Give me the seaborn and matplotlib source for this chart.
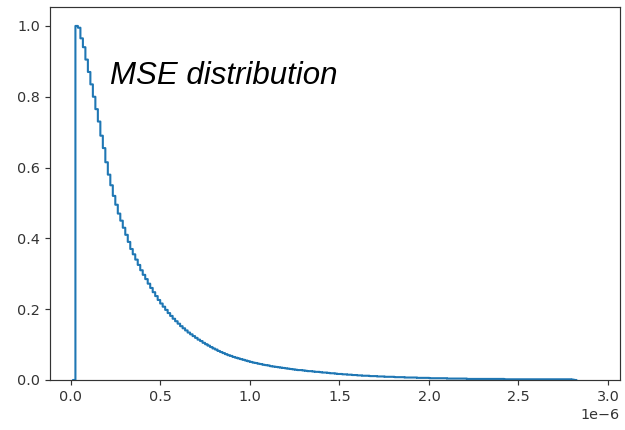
import numpy as np
import pandas as pd
import matplotlib
matplotlib.use("Agg")
import matplotlib.pyplot as plt
import seaborn as sns

# Histogram of per-sample MSE, normalised so the tallest bin is 1.
# The first and last entries are the empty bins just outside the data range,
# so the step outline closes down to zero at both ends.
bin_start = 0.025e-6 - 0.013925e-6
bin_width = 0.013925e-6
bin_heights = [
    0.000,
    1.000, 0.995, 0.965, 0.940, 0.905, 0.870, 0.835, 0.800, 0.765, 0.730,
    0.690, 0.655, 0.615, 0.580, 0.550, 0.520, 0.495, 0.470, 0.450, 0.430,
    0.410, 0.390, 0.370, 0.355, 0.340, 0.325, 0.310, 0.297, 0.285, 0.272,
    0.260, 0.248, 0.237, 0.226, 0.216, 0.207, 0.198, 0.189, 0.181, 0.173,
    0.166, 0.159, 0.152, 0.146, 0.140, 0.134, 0.129, 0.124, 0.119, 0.114,
    0.110, 0.105, 0.101, 0.097, 0.093, 0.089, 0.086, 0.082, 0.079, 0.076,
    0.073, 0.070, 0.068, 0.065, 0.063, 0.061, 0.059, 0.057, 0.055, 0.053,
    0.051, 0.049, 0.048, 0.046, 0.045, 0.043, 0.042, 0.041, 0.039, 0.038,
    0.037, 0.036, 0.035, 0.034, 0.033, 0.032, 0.031, 0.030, 0.029, 0.028,
    0.028, 0.027, 0.026, 0.025, 0.025, 0.024, 0.023, 0.023, 0.022, 0.021,
    0.021, 0.020, 0.019, 0.019, 0.018, 0.017, 0.017, 0.016, 0.016, 0.015,
    0.015, 0.014, 0.014, 0.013, 0.013, 0.012, 0.012, 0.012, 0.011, 0.011,
    0.011, 0.010, 0.010, 0.010, 0.009, 0.009, 0.009, 0.009, 0.008, 0.008,
    0.008, 0.008, 0.007, 0.007, 0.007, 0.007, 0.007, 0.006, 0.006, 0.006,
    0.006, 0.006, 0.005, 0.005, 0.005, 0.005, 0.005, 0.005, 0.005, 0.004,
    0.004, 0.004, 0.004, 0.004, 0.004, 0.004, 0.004, 0.003, 0.003, 0.003,
    0.003, 0.003, 0.003, 0.003, 0.003, 0.003, 0.003, 0.003, 0.003, 0.003,
    0.003, 0.003, 0.002, 0.002, 0.002, 0.002, 0.002, 0.002, 0.002, 0.002,
    0.002, 0.002, 0.002, 0.002, 0.002, 0.002, 0.002, 0.002, 0.002, 0.002,
    0.002, 0.002, 0.002, 0.002, 0.002, 0.002, 0.002, 0.002, 0.002, 0.001,
    0.000,
]
title_text = "MSE distribution"

n_bins = len(bin_heights)
bin_end = bin_start + bin_width * n_bins
centers = bin_start + bin_width * (np.arange(n_bins) + 0.5)
df = pd.DataFrame({"mse": centers, "weight": bin_heights})

sns.set_style("ticks")
plt.rcParams.update({
    "font.family": ["DejaVu Sans"],
    "axes.edgecolor": "#333333",
    "axes.linewidth": 0.85,
    "xtick.color": "#333333",
    "ytick.color": "#333333",
    "xtick.labelcolor": "#333333",
    "ytick.labelcolor": "#333333",
    "xtick.major.size": 3.6,
    "ytick.major.size": 3.6,
    "xtick.major.width": 0.85,
    "ytick.major.width": 0.85,
    "xtick.labelsize": 10.4,
    "ytick.labelsize": 10.4,
})

fig = plt.figure(figsize=(6.25, 4.3), dpi=100)
ax = fig.add_axes([0.08, 0.1163, 0.912, 0.867])

sns.histplot(data=df, x="mse", weights="weight", bins=n_bins,
             binrange=(bin_start, bin_end),
             element="step", fill=False, color="#1f77b4",
             linewidth=1.5, ax=ax)
for line in ax.lines:
    line.set_snap(False)

ax.set_xlim(-0.117e-6, 3.067e-6)
ax.set_ylim(0, 1.053)
ax.set_xticks(np.arange(0, 3.01e-6, 0.5e-6))
ax.set_yticks(np.arange(0, 1.01, 0.2))
ax.set_xlabel("")
ax.set_ylabel("")
for s in ax.spines.values():
    s.set_visible(True)

ax.text(0.105, 0.795, title_text, transform=ax.transAxes,
        fontsize=22.5, style="italic", family=["Liberation Sans", "DejaVu Sans"],
        color="black", va="baseline", ha="left")

fig.savefig("out.png", dpi=100)
